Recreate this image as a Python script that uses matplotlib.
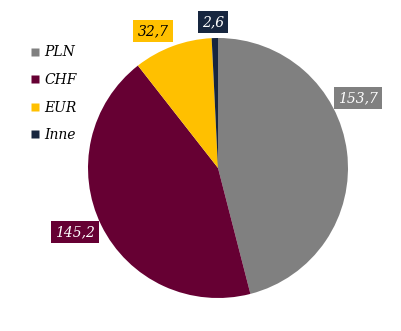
import matplotlib
matplotlib.use("Agg")
import matplotlib.pyplot as plt
from matplotlib.lines import Line2D

categories = ["PLN", "CHF", "EUR", "Inne"]
values = [153.7, 145.2, 32.7, 2.6]
value_labels = ["153,7", "145,2", "32,7", "2,6"]
colors = ["#808080", "#660033", "#FFC000", "#17263F"]
text_colors = ["white", "white", "black", "white"]

W, H = 401, 331
fig = plt.figure(figsize=(W / 100, H / 100), dpi=100)
ax = fig.add_axes([0, 0, 1, 1])

cx, cy, r = 218, H - 168, 130
ax.pie(values, colors=colors, startangle=90, counterclock=False,
       center=(cx, cy), radius=r, frame=True,
       wedgeprops=dict(linewidth=0))
ax.set_xlim(0, W)
ax.set_ylim(0, H)
ax.set_aspect("equal")
ax.axis("off")

label_pos = [(358, 98), (75, 232), (153, 31), (213, 22)]
font = dict(family="DejaVu Serif", style="italic", size=10)
for (x, y), t, c, tc in zip(label_pos, value_labels, colors, text_colors):
    ax.text(x, H - y, t, ha="center", va="center", color=tc, **font,
            bbox=dict(boxstyle="square,pad=0.3", fc=c, ec="none"))

handles = [Line2D([], [], marker="s", linestyle="none", markersize=6,
                  markerfacecolor=c, markeredgecolor="none") for c in colors]
leg = ax.legend(handles, categories, loc="upper left",
                bbox_to_anchor=(18 / W, 1 - 33 / H), frameon=False,
                handlelength=0.6, handletextpad=0.4, labelspacing=0.98,
                prop=dict(family="DejaVu Serif", style="italic", size=10))

fig.savefig("out.png", dpi=100)
